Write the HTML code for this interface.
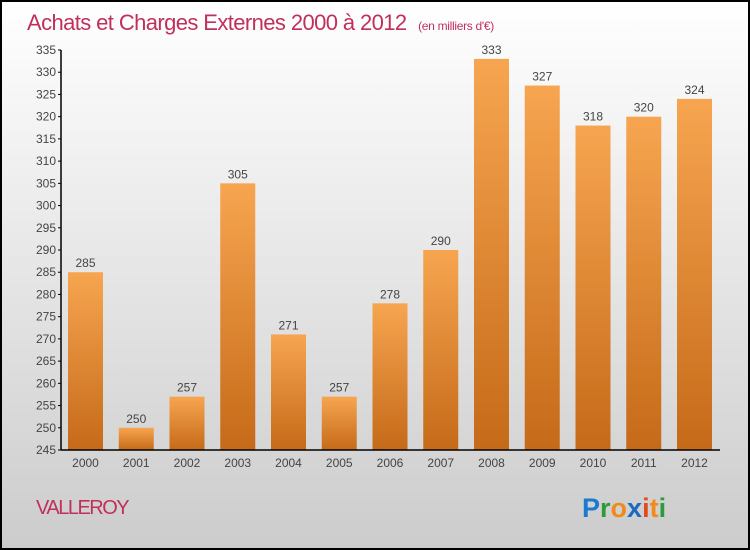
<!DOCTYPE html>
<html><head><meta charset="utf-8"><style>
body{margin:0;width:750px;height:550px;overflow:hidden}
svg{display:block;font-family:"Liberation Sans",sans-serif}
</style></head><body>
<svg width="750" height="550">
<defs>
<linearGradient id="bg" x1="0" y1="0" x2="0" y2="1"><stop offset="0" stop-color="#ffffff"/><stop offset="1" stop-color="#cccccc"/></linearGradient>
<linearGradient id="bar" x1="0" y1="0" x2="0" y2="1"><stop offset="0" stop-color="#f7a550"/><stop offset="1" stop-color="#c56a18"/></linearGradient>
</defs>
<rect x="1" y="1" width="748" height="548" fill="url(#bg)" stroke="#000" stroke-width="2"/>
<text x="27" y="30" font-size="22" fill="#c0305c" style="letter-spacing:-0.6px">Achats et Charges Externes 2000 à 2012 <tspan font-size="12" dx="6" style="letter-spacing:-0.3px">(en milliers d'€)</tspan></text>
<g id="yaxis"></g>
<g id="bars"></g>
<g id="xaxis"></g>
<text x="36" y="514" font-size="20" fill="#c0305c" style="letter-spacing:-1.5px">VALLEROY</text>
<text x="582" y="517" font-size="27" font-weight="bold"><tspan fill="#1a7ad0">P</tspan><tspan fill="#2e9a3a">r</tspan><tspan fill="#f08a1c">o</tspan><tspan fill="#1a6ac0">x</tspan><tspan fill="#e04a1c">i</tspan><tspan fill="#f08a1c">t</tspan><tspan fill="#2e9a3a">i</tspan></text>
</svg>
<script>
const categories=["2000","2001","2002","2003","2004","2005","2006","2007","2008","2009","2010","2011","2012"];
const values=[285,250,257,305,271,257,278,290,333,327,318,320,324];
const yTicks=[245,250,255,260,265,270,275,280,285,290,295,300,305,310,315,320,325,330,335];
const NS="http://www.w3.org/2000/svg";
const y=v=>450-(v-245)*400/90;
const x=i=>68+i*50.75;
function mk(t,a,p,txt){const e=document.createElementNS(NS,t);for(const k in a)e.setAttribute(k,a[k]);if(txt!=null)e.textContent=txt;p.appendChild(e);return e;}
const ya=document.getElementById('yaxis'),bg=document.getElementById('bars'),xa=document.getElementById('xaxis');
mk('line',{x1:61,y1:50,x2:61,y2:450,stroke:'#000','stroke-width':1.5},ya);
yTicks.forEach(v=>{
 mk('line',{x1:58,y1:y(v),x2:61,y2:y(v),stroke:'#000'},ya);
 const t=mk('text',{x:56,y:y(v)+4,'font-size':12,fill:'#444','text-anchor':'end'},ya,v);
 
 
});
values.forEach((v,i)=>{
 const r=mk('rect',{x:x(i),y:y(v),width:35,height:450-y(v),fill:'url(#bar)'},bg);
 
 
 const t=mk('text',{x:x(i)+17.5,y:y(v)-5,'font-size':12,fill:'#444','text-anchor':'middle'},bg,v);
 
 
 const c=mk('text',{x:x(i)+17.5,y:467,'font-size':12,fill:'#444','text-anchor':'middle'},xa,categories[i]);
 
 
});
mk('line',{x1:61,y1:450,x2:720,y2:450,stroke:'#000','stroke-width':1.5},xa);
</script>
</body></html>
